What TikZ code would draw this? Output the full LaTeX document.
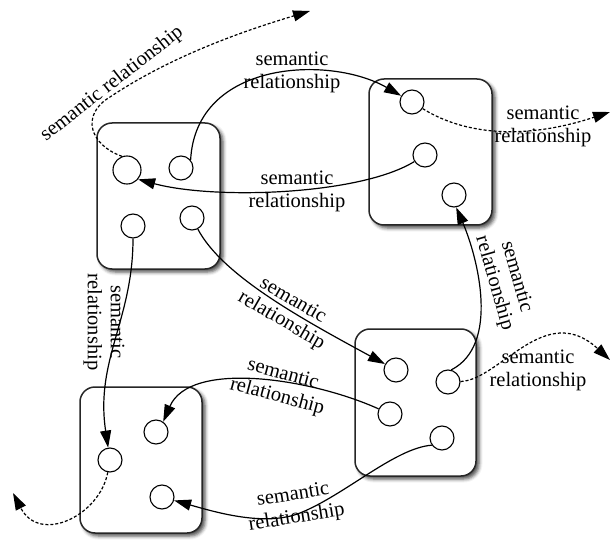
\documentclass[tikz,border=0pt]{standalone}
\usepackage{fontspec}
\setmainfont{Liberation Serif}
\newfontfamily\lblfont{Liberation Serif}
\usetikzlibrary{arrows.meta,shadows.blur}
\begin{document}
\begin{tikzpicture}[x=1pt,y=-1pt,
  box/.style={draw=black!85, line width=1.5pt, rounded corners=15pt, fill=white,
    minimum width=123pt, minimum height=146pt, inner sep=0pt,
    blur shadow={shadow xshift=3pt, shadow yshift=-3pt, shadow blur radius=3.5pt, shadow opacity=70}},
  dot/.style={circle, draw, line width=1.1pt, minimum size=24pt, inner sep=0pt, fill=white},
  rel/.style={line width=1.2pt, -{Triangle[length=17pt,width=11pt]}},
  drel/.style={rel, dash pattern=on 3pt off 2pt},
  lbl/.style={font=\lblfont\fontsize{20.5}{23}\selectfont, align=center, inner sep=0pt}]
\useasboundingbox (0,0) rectangle (613,540);
% boxes
\node[box] (tl) at (158.5,196) {};
\node[box] (tr) at (430.5,152) {};
\node[box, minimum width=121pt, minimum height=147pt] (br) at (415.5,402.5) {};
\node[box, minimum width=122pt] (bl) at (141,460) {};
% circles
\node[dot, minimum size=28pt] (a1) at (127,170) {};
\node[dot] (a2) at (181,168) {};
\node[dot] (a3) at (133,226) {};
\node[dot] (a4) at (192,218) {};
\node[dot] (b1) at (412,102) {};
\node[dot] (b2) at (425,155) {};
\node[dot] (b3) at (454,195) {};
\node[dot] (d1) at (396,370) {};
\node[dot] (d2) at (448,382) {};
\node[dot] (d3) at (390,414) {};
\node[dot] (d4) at (442,438) {};
\node[dot] (c1) at (110,460) {};
\node[dot] (c2) at (156,432) {};
\node[dot] (c3) at (162,497) {};
% free ends
\coordinate (e1) at (310,11);
\coordinate (e2) at (610,112);
\coordinate (e3) at (610,360);
\coordinate (e4) at (13,493);
% solid relationships
\draw[rel] (a2.40) .. controls (196,60) and (330,55) .. (b1);
\draw[rel] (b2) .. controls (360,195) and (215,200) .. (a1.-40);
\draw[rel] (a3) .. controls (133,320) and (95,360) .. (c1);
\draw[rel] (a4) .. controls (222,275) and (300,318) .. (d1);
\draw[rel] (d3) .. controls (310,378) and (190,360) .. (c2.55);
\draw[rel] (d4.215) .. controls (395,448) and (345,495) .. (300,513) .. controls (265,527) and (215,512) .. (c3);
\draw[rel] (d2.75) .. controls (500,345) and (478,258) .. (b3.-80);
% dashed relationships
\draw[drel] (a1.110) .. controls (90,145) and (80,115) .. (110,97) .. controls (170,57) and (240,32) .. (e1);
\draw[drel] (b1) .. controls (465,135) and (525,140) .. (e2);
\draw[drel] (d2) .. controls (500,380) and (545,300) .. (e3);
\draw[drel] (c1) .. controls (100,515) and (40,545) .. (e4);
% labels
\node[lbl] (l1) at (292,72) {semantic\\relationship};
\node[lbl] (l2) at (297,191) {semantic\\relationship};
\node[lbl, rotate=-90] (l3) at (104,322) {semantic\\relationship};
\node[lbl, rotate=-30] (l4) at (287,311) {semantic\\relationship};
\node[lbl, rotate=-15] (l5) at (280,386) {semantic\\relationship};
\node[lbl, rotate=9] (l6) at (295,507) {semantic\\relationship};
\node[lbl, rotate=-74] (l7) at (505,280) {semantic\\relationship};
\node[lbl, rotate=38] (l8) at (112,84) {semantic relationship};
\node[lbl] (l9) at (543,126) {semantic\\relationship};
\node[lbl] (l10) at (538,370) {semantic\\relationship};
\end{tikzpicture}
\end{document}
